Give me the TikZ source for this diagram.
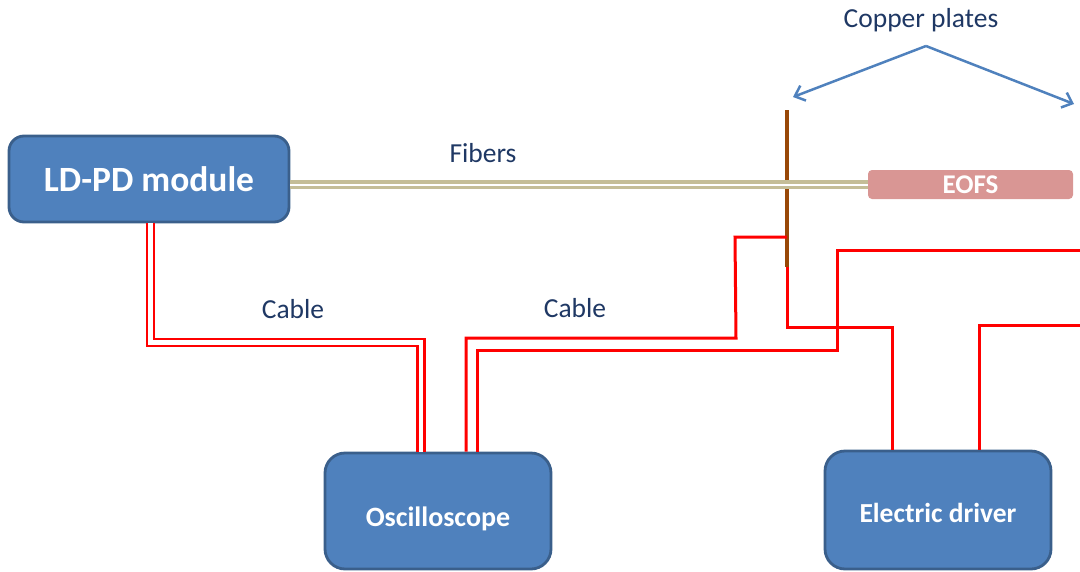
\documentclass[tikz,border=0pt]{standalone}
\usepackage{fontspec}
\setmainfont{Carlito}
\usetikzlibrary{arrows.meta,calc}
\definecolor{boxfill}{HTML}{4F81BD}
\definecolor{boxline}{HTML}{3A5F8B}
\definecolor{eofsfill}{HTML}{D99694}
\definecolor{fiber}{HTML}{C4BD97}
\definecolor{copper}{HTML}{984807}
\definecolor{labtext}{HTML}{1F3864}
\definecolor{wire}{HTML}{FF0000}
\tikzset{
  devbox/.style={draw=boxline, line width=2.8pt, fill=boxfill, rounded corners=20pt,
    text=white, font=\bfseries, inner sep=0pt},
  eofsbox/.style={fill=eofsfill, rounded corners=4pt, text=white, font=\fontsize{27}{30}\selectfont\bfseries,
    minimum width=205pt, minimum height=29pt, inner sep=0pt},
  lab/.style={text=labtext, font=\fontsize{27.5}{30}\selectfont, inner sep=0pt},
  fibers/.style={draw=fiber, line width=3.5pt, double=white, double distance=2pt},
  cablepair/.style={draw=wire, line width=2.4pt, double=white, double distance=4.8pt},
  wireline/.style={draw=wire, line width=3pt},
  plate/.style={draw=copper, line width=3.5pt},
  pointer/.style={draw=boxfill, line width=2.5pt, -{Straight Barb[length=9pt,width=16pt,line width=2.5pt]}}
}
\begin{document}
\begin{tikzpicture}[x=1pt,y=-1pt]
\useasboundingbox (0,0) rectangle (1080,571);
% devices
\node[devbox, minimum width=280pt, minimum height=86pt, rounded corners=15pt,
  font=\fontsize{35.5}{38}\selectfont\bfseries] (ld) at (149,179) {LD-PD module};
\node[devbox, minimum width=226pt, minimum height=116pt,
  font=\fontsize{28}{30}\selectfont\bfseries] (osc) at (438,511) {\smash{\raisebox{-15pt}{Oscilloscope}}};
\node[devbox, minimum width=226pt, minimum height=118pt,
  font=\fontsize{27.5}{30}\selectfont\bfseries] (drv) at (938,510) {\smash{\raisebox{-12pt}{Electric driver}}};
\node[eofsbox] (eofs) at (970.5,184.5) {EOFS};
% copper plate
\coordinate (p1top) at (787,110);
\coordinate (p1bot) at (787,267);
\draw[plate] (p1top) -- (p1bot);
% fibers
\draw[fibers] (ld.east |- 0,184.5) -- (eofs.west |- 0,184.5);
% cable LD-PD -> oscilloscope
\draw[cablepair] ([xshift=1.5pt]ld.south) -- ++(0,119) -| ([xshift=-17pt]osc.north);
% wires
\coordinate (wa1) at (736,338);
\coordinate (wa2) at (735,237);
\draw[wireline] ([xshift=28pt]osc.north) |- (wa1) -- (wa2) -- (p1top |- wa2);
\coordinate (wb1) at (837,350);
\coordinate (wb2) at (1080,250);
\draw[wireline] ([xshift=39pt]osc.north) |- (wb1) |- (wb2);
\coordinate (wc1) at (892,327);
\draw[wireline] (p1bot) |- (wc1) -- (wc1 |- drv.north);
\coordinate (wd1) at (1080,325);
\coordinate (wd2) at (979,325);
\draw[wireline] (wd1) -- (wd2) -- (wd2 |- drv.north);
% labels
\node[lab] (fiblab) at (483,153) {Fibers};
\node[lab] (cab1) at (293,309) {Cable};
\node[lab] (cab2) at (575,308) {Cable};
\node[lab] (cplab) at (921,20) {Copper plates};
\coordinate (apex) at (926,46);
\coordinate (tipl) at (793,97);
\coordinate (tipr) at (1074,104);
\draw[pointer] (apex) -- (tipl);
\draw[pointer] (apex) -- (tipr);
\end{tikzpicture}
\end{document}
